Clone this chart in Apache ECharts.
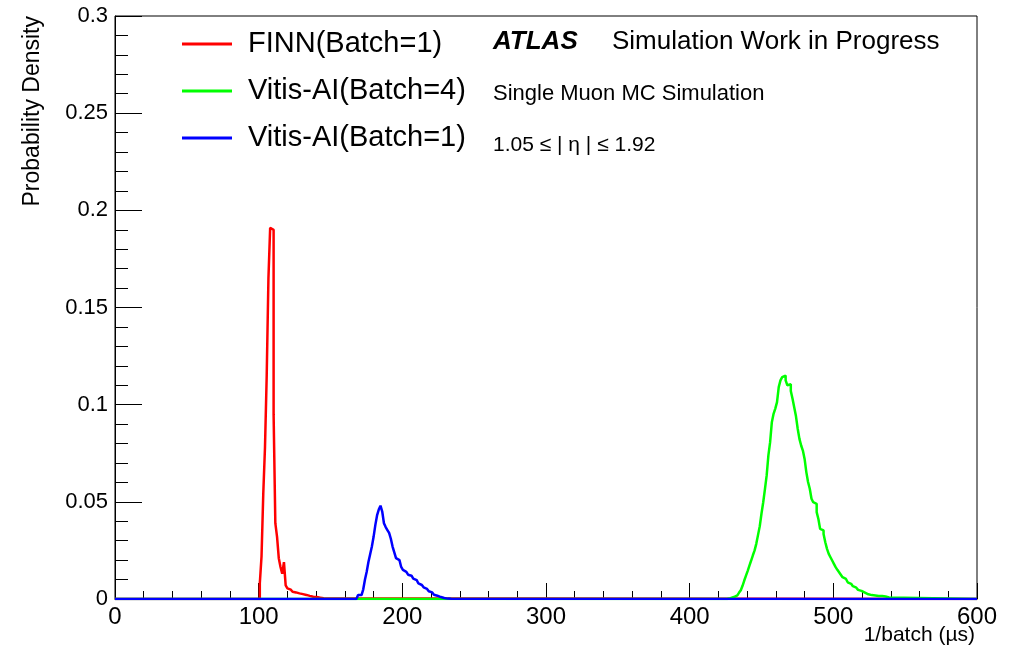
<!DOCTYPE html>
<html>
<head>
<meta charset="utf-8">
<script src="https://cdn.jsdelivr.net/npm/echarts@6/dist/echarts.min.js"></script>
<style>
html,body{margin:0;padding:0;background:#fff;}
#chart{width:1015px;height:652px;}
</style>
</head>
<body>
<div id="chart"></div>
<script>
// ---- data (histogram bins, width 1.2 µs) ----
const binWidth = 1.2;
const seriesNames = ['FINN(Batch=1)', 'Vitis-AI(Batch=4)', 'Vitis-AI(Batch=1)'];
const finnStart = 100.8;
const finnValues = [0.008,0.022,0.054,0.078,0.115,0.165,0.191,0.190,0.095,0.039,0.032,0.021,0.0165,0.013,0.019,0.007,
  0.0055,0.0048,0.0042,0.0037,0.0034,0.0031,0.0029,0.0027,0.0025,0.0023,0.0021,0.0018,0.0016,0.0014,0.0012,0.0011,
  0.0010,0.0009,0.0007,0.0005,0.0004,0.0002];
const vitis4Start = 426.0;
const vitis4Values = [0.0002,0.0004,0.0007,0.0010,0.0015,0.0019,0.0025,0.0033,0.0045,0.0068,0.0095,0.0120,0.0145,
  0.0172,0.0198,0.0225,0.0250,0.0285,0.0330,0.0375,0.0440,0.0498,0.0565,0.0636,0.0739,0.0807,0.0910,0.0953,0.0980,
  0.1013,0.1090,0.1125,0.1142,0.1150,0.1125,0.1100,0.1105,0.1070,0.1030,0.0985,0.0940,0.0876,0.0824,0.0790,0.0764,
  0.0721,0.0653,0.0602,0.0567,0.0516,0.0498,0.0490,0.0447,0.0412,0.0361,0.0353,0.0335,0.0292,0.0258,0.0232,0.0215,
  0.0198,0.0181,0.0164,0.0150,0.0138,0.0125,0.0112,0.0103,0.0095,0.0086,0.0078,0.0072,0.0066,0.0058,0.0052,0.0047,
  0.0042,0.0037,0.0033,0.0028,0.0024,0.0021,0.0020,0.0019,0.0018,0.0017,0.0016,0.0015,0.0015,0.0014,0.0013,0.0012,
  0.0008,0.0005];
const vitis1Start = 168.0;
const vitis1Values = [0.001,0.002,0.002,0.003,0.005,0.010,0.014,0.019,0.023,0.027,0.032,0.038,0.043,0.046,0.048,
  0.045,0.039,0.037,0.0355,0.034,0.031,0.027,0.024,0.021,0.020,0.019,0.0165,0.015,0.014,0.013,0.0125,0.012,0.011,
  0.0105,0.0097,0.009,0.008,0.0072,0.0067,0.006,0.0052,0.0046,0.004,0.0034,0.0028,0.0022,0.0017,0.0013,0.001,
  0.0007,0.0005,0.0003,0.0002,0.0001,0.0001];
const xTicks = [0,100,200,300,400,500,600];
const yTicks = [0,0.05,0.1,0.15,0.2,0.25,0.3];
const colors = ['#ff0000', '#00ff00', '#0000ff'];

function buildHist(start, values) {
  const pts = [[0, 0]];
  values.forEach((v, i) => pts.push([+(start + i * binWidth).toFixed(3), v]));
  pts.push([+(start + values.length * binWidth).toFixed(3), 0]);
  pts.push([600, 0]);
  return pts;
}

const FONT = 'Liberation Sans, Arial, Helvetica, sans-serif';
const chart = echarts.init(document.getElementById('chart'));
const hists = [buildHist(finnStart, finnValues), buildHist(vitis4Start, vitis4Values), buildHist(vitis1Start, vitis1Values)];

chart.setOption({
  animation: false,
  backgroundColor: '#ffffff',
  grid: { left: 115, right: 38, top: 16, bottom: 53, containLabel: false, outerBoundsMode: 'none',
    show: true, borderColor: '#000', borderWidth: 1, backgroundColor: 'transparent' },
  legend: {
    orient: 'vertical', left: 182, top: 29, padding: 0,
    icon: 'rect', itemWidth: 50, itemHeight: 3, itemGap: 17,
    data: seriesNames,
    textStyle: { fontFamily: FONT, fontSize: 29, color: '#000', lineHeight: 30, padding: [0, 0, 0, 11] }
  },
  xAxis: {
    type: 'value', min: xTicks[0], max: xTicks[xTicks.length - 1], interval: 100,
    axisLine: { show: true, lineStyle: { color: '#000', width: 1 } },
    axisTick: { show: true, inside: true, length: 16, lineStyle: { color: '#000' } },
    minorTick: { show: true, splitNumber: 5, length: 8, lineStyle: { color: '#000' } },
    splitLine: { show: false },
    axisLabel: { fontFamily: FONT, fontSize: 24, color: '#000', margin: 6 }
  },
  yAxis: {
    type: 'value', min: yTicks[0], max: yTicks[yTicks.length - 1], interval: 0.05,
    axisLine: { show: true, lineStyle: { color: '#000', width: 1 } },
    axisTick: { show: true, inside: true, length: 27, lineStyle: { color: '#000' } },
    minorTick: { show: true, splitNumber: 5, length: 13, lineStyle: { color: '#000' } },
    splitLine: { show: false },
    axisLabel: { fontFamily: FONT, fontSize: 22, color: '#000', margin: 7 }
  },
  graphic: [
    { type: 'text', left: 21, top: 16, rotation: Math.PI / 2, originX: 0, originY: 0,
      style: { text: 'Probability Density', font: '23px ' + FONT, fill: '#000', x: 0, y: 0, align: 'right', verticalAlign: 'top' } },
    { type: 'text', x: 975, y: 625, style: { text: '1/batch (µs)', font: '21px ' + FONT, fill: '#000', align: 'right', verticalAlign: 'top' } },
    { type: 'text', x: 493, y: 42, style: { text: 'ATLAS', font: 'italic bold 26px ' + FONT, fill: '#000', verticalAlign: 'middle' } },
    { type: 'text', x: 612, y: 42, style: { text: 'Simulation Work in Progress', font: '26px ' + FONT, fill: '#000', verticalAlign: 'middle' } },
    { type: 'text', x: 493, y: 94, style: { text: 'Single Muon MC Simulation', font: '22px ' + FONT, fill: '#000', verticalAlign: 'middle' } },
    { type: 'text', x: 493, y: 145, style: { text: '1.05 ≤ | η | ≤ 1.92', font: '21px ' + FONT, fill: '#000', verticalAlign: 'middle' } }
  ],
  series: seriesNames.map((name, k) => ({
    name: name, type: 'line', step: 'end', data: hists[k], showSymbol: false, symbol: 'none',
    lineStyle: { color: colors[k], width: 2.5 }, itemStyle: { color: colors[k] }, z: 2 + k
  }))
});
</script>
</body>
</html>
